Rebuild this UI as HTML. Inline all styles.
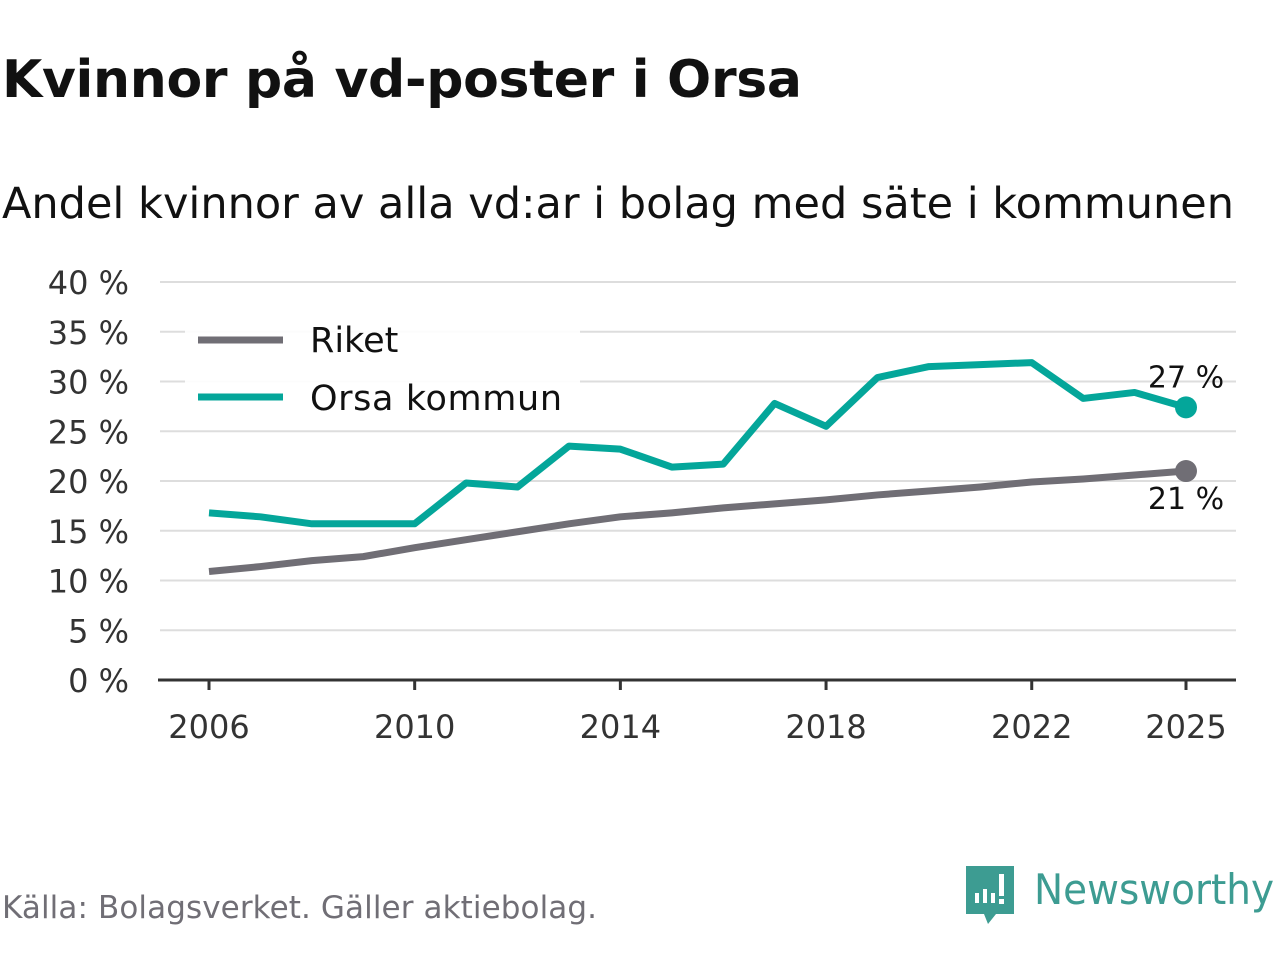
<!DOCTYPE html>
<html><head><meta charset="utf-8"><style>
body{margin:0;width:1280px;height:960px;background:#fff;font-family:"DejaVu Sans","Liberation Sans",sans-serif;overflow:hidden}
svg text{font-family:"DejaVu Sans","Liberation Sans",sans-serif}
</style></head><body>
<svg id="c" width="1280" height="960">
<text x="2" y="97" font-size="52" font-weight="bold" fill="#111" textLength="800">Kvinnor på vd-poster i Orsa</text>
<text x="2" y="218" font-size="43" fill="#111" textLength="1232">Andel kvinnor av alla vd:ar i bolag med säte i kommunen</text>
<g id="grid"></g><g id="series"></g>
<g>
<rect x="185" y="318" width="395" height="112" fill="#fff" opacity="0.9"/>
<line x1="198" y1="340" x2="283" y2="340" stroke="#706e75" stroke-width="7"/>
<text x="310" y="352" font-size="35" fill="#111">Riket</text>
<line x1="198" y1="397" x2="283" y2="397" stroke="#04a69a" stroke-width="7"/>
<text x="310" y="410" font-size="35" fill="#111" textLength="252">Orsa kommun</text>
</g>
<text x="2" y="918" font-size="31" fill="#706e75" textLength="595">Källa: Bolagsverket. Gäller aktiebolag.</text>
<g>
<path d="M966 866 h48 v48 h-18 l-8 10 l-4 -10 h-18 z" fill="#3d9c92"/>
<rect x="975" y="893" width="4" height="10" fill="#fff"/><rect x="983" y="889" width="4" height="14" fill="#fff"/><rect x="991" y="893" width="4" height="10" fill="#fff"/><rect x="999" y="874" width="5" height="22" fill="#fff"/><rect x="999" y="899" width="5" height="5" fill="#fff"/>
<text x="1034" y="904" font-size="42" fill="#3d9c92" textLength="240" lengthAdjust="spacingAndGlyphs">Newsworthy</text>
</g>
</svg>
<script>
const years=[2006,2007,2008,2009,2010,2011,2012,2013,2014,2015,2016,2017,2018,2019,2020,2021,2022,2023,2024,2025];
const riket=[10.9,11.4,12.0,12.4,13.3,14.1,14.9,15.7,16.4,16.8,17.3,17.7,18.1,18.6,19.0,19.4,19.9,20.2,20.6,21.0];
const orsa=[16.8,16.4,15.7,15.7,15.7,19.8,19.4,23.5,23.2,21.4,21.7,27.8,25.5,30.4,31.5,31.7,31.9,28.3,28.9,27.4];
const yTicks=[0,5,10,15,20,25,30,35,40];
const xTicks=[2006,2010,2014,2018,2022,2025];
const NS="http://www.w3.org/2000/svg";
const x=v=>209+(v-2006)*(1186-209)/19;
const y=v=>680-v*(680-282)/40;
function mk(t,a,p){const e=document.createElementNS(NS,t);for(const k in a)e.setAttribute(k,a[k]);p.appendChild(e);return e;}
const g=document.getElementById('grid'),s=document.getElementById('series');
yTicks.forEach(v=>{
 if(v>0){const l=mk('line',{x1:160,x2:1236,y1:y(v),y2:y(v),stroke:'#ddd','stroke-width':2},g);
 
 }
 const t=mk('text',{x:129,y:y(v)+12,'font-size':32,fill:'#333','text-anchor':'end'},g);t.textContent=v+' %';
 
 
});
const ax=mk('line',{x1:158,x2:1236,y1:680,y2:680,stroke:'#333','stroke-width':3},g);


xTicks.forEach(v=>{
 const tk=mk('line',{x1:x(v),x2:x(v),y1:680,y2:690,stroke:'#333','stroke-width':3},g);
 
 
 const t=mk('text',{x:x(v),y:738,'font-size':32,fill:'#333','text-anchor':'middle'},g);t.textContent=v;
 
 
});
function line(d,c,n){
 const p=mk('polyline',{points:d.map((v,i)=>x(years[i])+','+y(v)).join(' '),fill:'none',stroke:c,'stroke-width':7,'stroke-linejoin':'round'},s);
 
 
 const last=d.length-1;
 const ci=mk('circle',{cx:x(years[last]),cy:y(d[last]),r:11,fill:c},s);
 
 
 return last;
}
let li=line(riket,'#706e75','riket');
let t1=mk('text',{x:x(years[li]),y:y(riket[li])+38,'font-size':30,fill:'#111','text-anchor':'middle'},s);t1.textContent=Math.round(riket[li])+' %';


li=line(orsa,'#04a69a','orsa');
let t2=mk('text',{x:x(years[li]),y:y(orsa[li])-20,'font-size':30,fill:'#111','text-anchor':'middle'},s);t2.textContent=Math.round(orsa[li])+' %';


</script>
</body></html>
